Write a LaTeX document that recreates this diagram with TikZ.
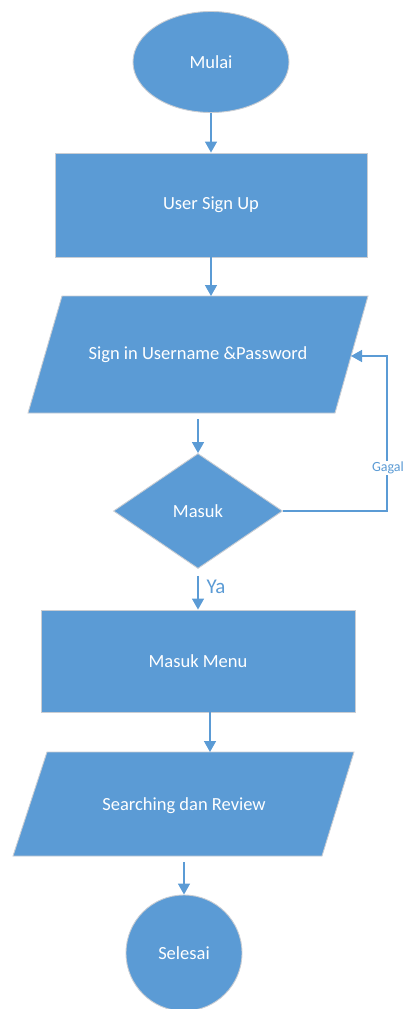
\documentclass[tikz,border=0pt]{standalone}
\usepackage{fontspec}
\setmainfont{Carlito}
\usetikzlibrary{shapes.geometric,arrows.meta}
\definecolor{obl}{HTML}{5B9BD5}
\definecolor{edge}{HTML}{C9CDD3}
\tikzset{
  shp/.style={fill=obl, draw=edge, line width=0.9pt, inner sep=0pt, text=white, font=\fontsize{18.5}{21}\selectfont},
  txt/.style={text=white, inner sep=0pt, font=\fontsize{18.5}{21}\selectfont},
  arr/.style={draw=obl, line width=1.5pt, -{Triangle[width=12pt,length=11pt]}},
  lbl/.style={text=obl, inner sep=1pt}
}
\begin{document}
\begin{tikzpicture}[x=1pt,y=-1pt]
\useasboundingbox (0,0) rectangle (406,1009);
% shapes
\node[shp, ellipse, minimum width=156pt, minimum height=101pt] (mulai) at (211,62) {Mulai};
\node[shp, rectangle, minimum width=312pt, minimum height=104pt] (signup) at (211,205) {User Sign Up};
\draw[fill=obl, draw=edge, line width=0.9pt] (62,296) -- (368,296) -- (335,413) -- (28,413) -- cycle;
\node[txt] (signin) at (198,355) {Sign in Username \&Password};
\coordinate (signinTop) at (211,296);
\coordinate (signinBot) at (198,413);
\coordinate (signinRight) at (351,356);
\node[shp, diamond, minimum width=169pt, minimum height=115pt] (masuk) at (198,511) {Masuk};
\node[shp, rectangle, minimum width=314pt, minimum height=102pt] (menu) at (198,661) {Masuk Menu};
\draw[fill=obl, draw=edge, line width=0.9pt] (47,752) -- (354,752) -- (322,856) -- (13,856) -- cycle;
\node[txt] (search) at (184,806) {Searching dan Review};
\coordinate (searchTop) at (210,752);
\coordinate (searchBot) at (184,856);
\coordinate (menuBot) at (210,712);
\node[shp, circle, minimum size=116pt] (selesai) at (184,953) {Selesai};
% connectors
\draw[arr] (mulai.south) -- (signup.north);
\draw[arr] (signup.south) -- (signinTop);
\draw[arr, shorten <=6pt] (signinBot) -- (masuk.north);
\draw[arr, shorten <=7pt] (masuk.south) -- (menu.north);
\draw[arr] (menuBot) -- (searchTop);
\draw[arr, shorten <=6pt] (searchBot) -- (selesai.north);
\coordinate (g1) at (387,511);
\coordinate (g2) at (387,356);
\draw[arr] (masuk.east) -- (g1) -- (g2) -- (signinRight);
% labels
\node[lbl, fill=white, font=\fontsize{14}{16}\selectfont] (gagal) at (388,468) {Gagal};
\node[lbl, font=\fontsize{21}{24}\selectfont] (ya) at (216,587) {Ya};
\end{tikzpicture}
\end{document}
